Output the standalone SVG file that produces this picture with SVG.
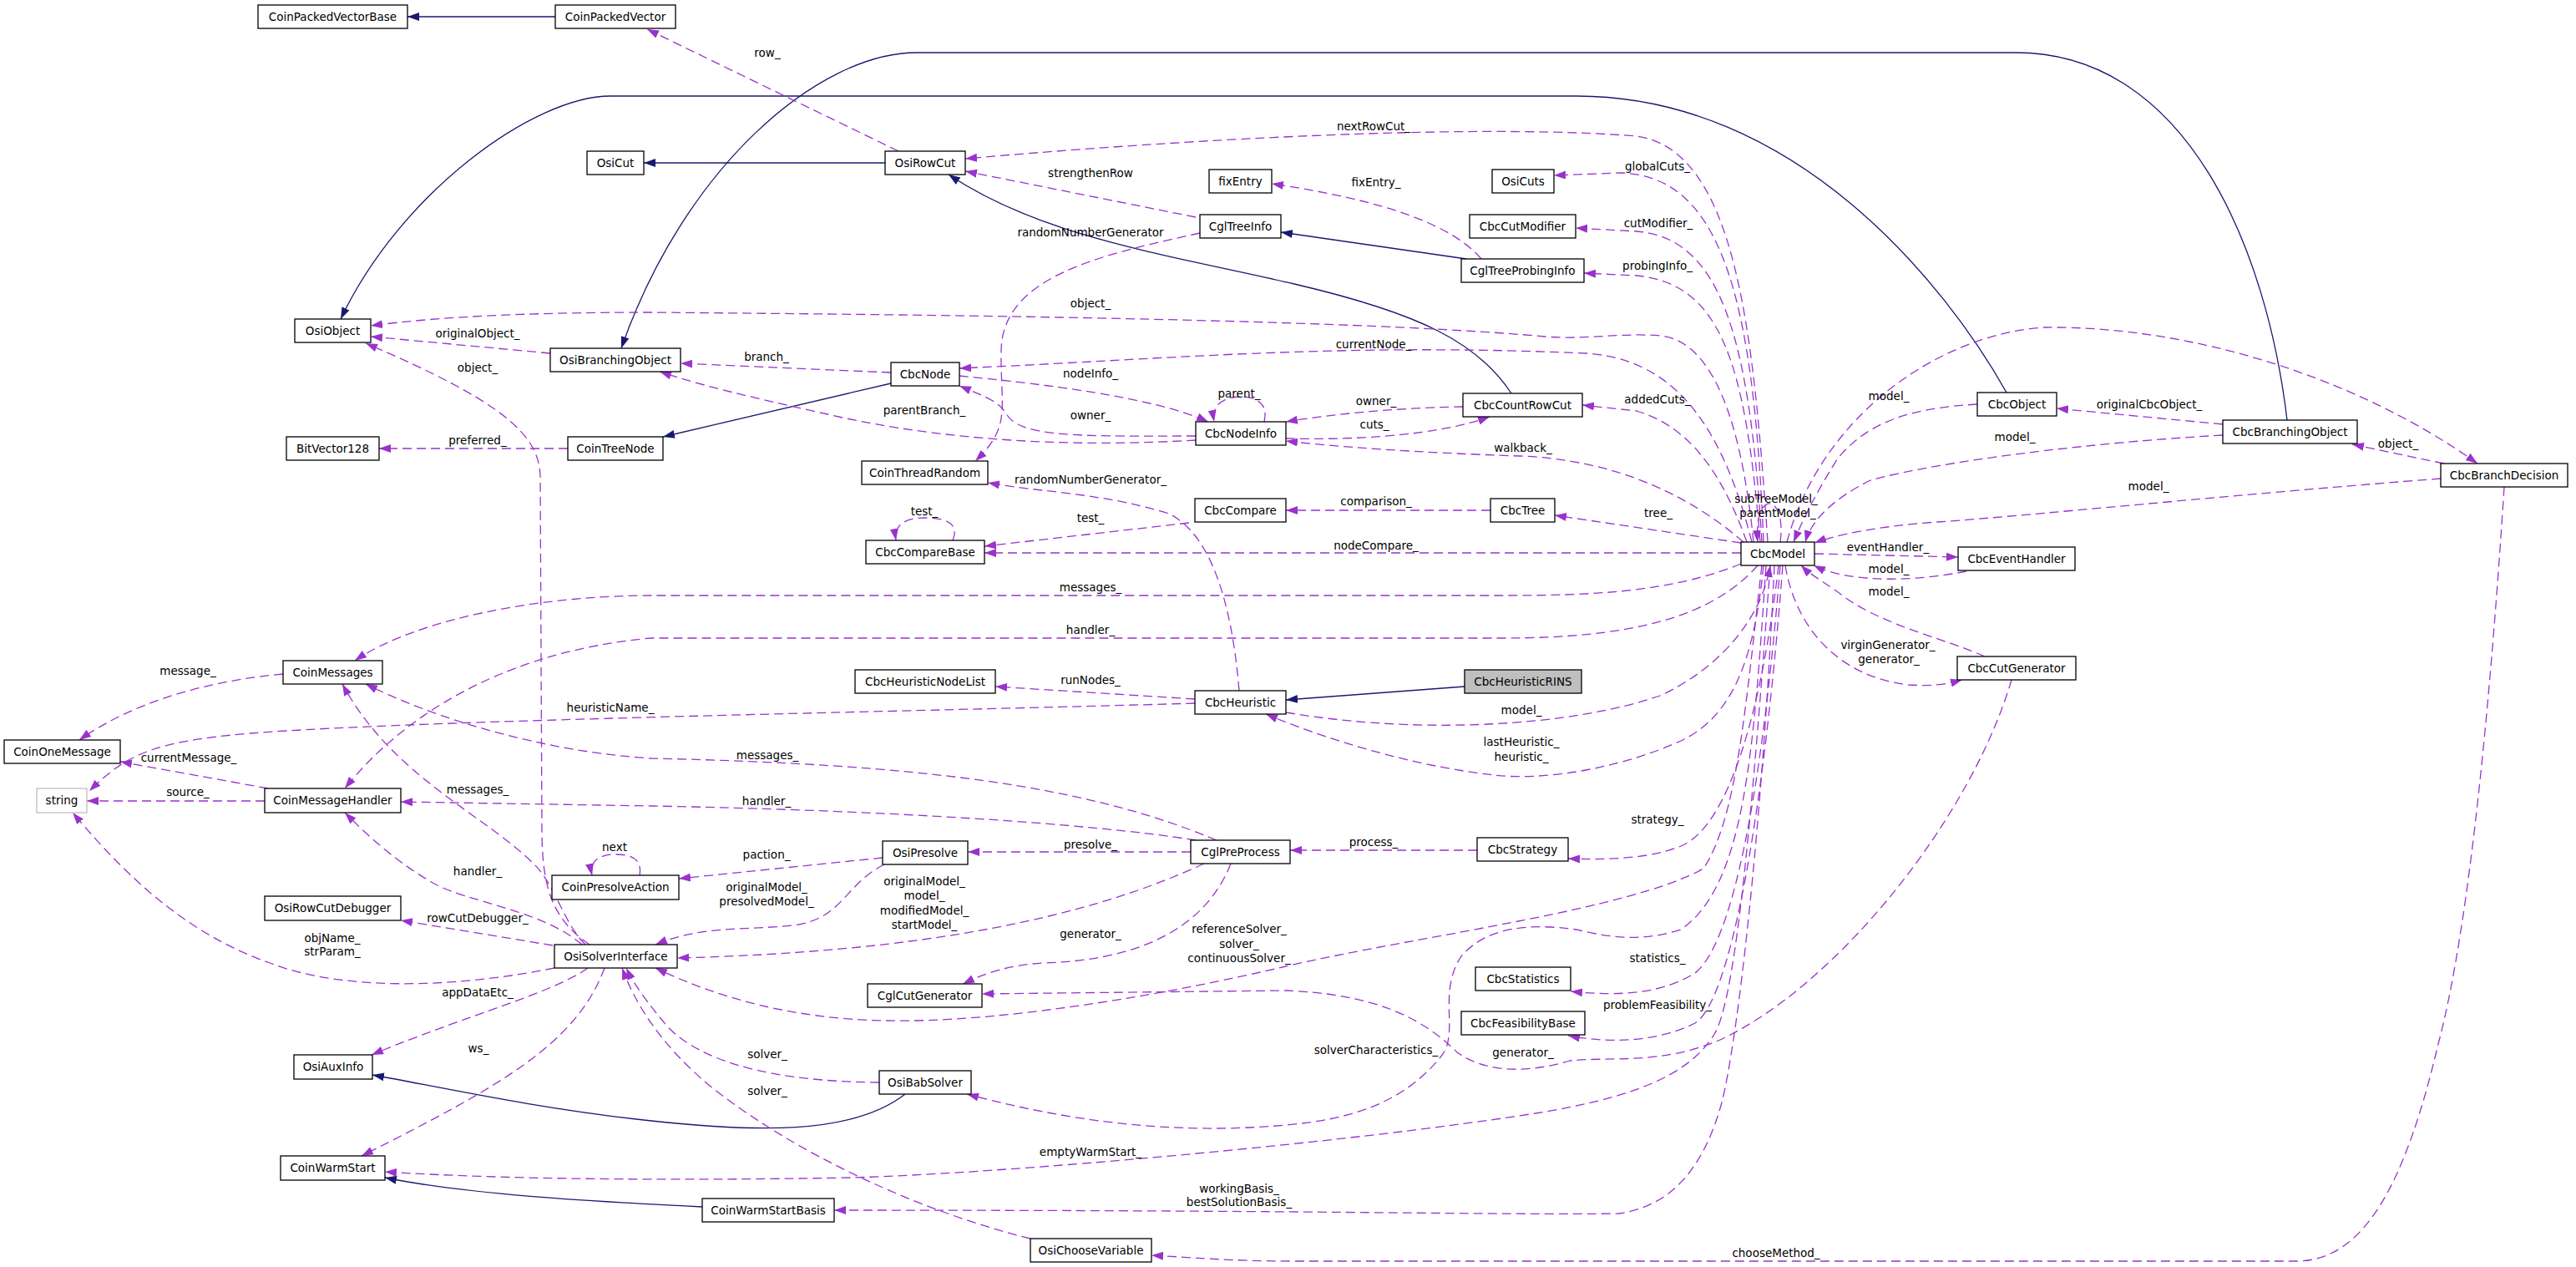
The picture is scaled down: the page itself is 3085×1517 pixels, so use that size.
<svg xmlns="http://www.w3.org/2000/svg" width="3085" height="1517" viewBox="0 0 3085 1517">
<style>
.n rect{fill:#fff;stroke:#000;stroke-width:1.3}
.n text,.l text{font-family:"DejaVu Sans",sans-serif;font-size:13.5px;text-anchor:middle;fill:#000}
.d{fill:none;stroke:#9a32cd;stroke-width:1.3;stroke-dasharray:11,6;marker-end:url(#ap)}
.s{fill:none;stroke:#191970;stroke-width:1.3;marker-end:url(#ab)}
</style>
<defs>
<marker id="ap" markerUnits="userSpaceOnUse" markerWidth="16" markerHeight="12" refX="14" refY="5" orient="auto"><path d="M0,0 L14,5 L0,10 z" fill="#9a32cd"/></marker>
<marker id="ab" markerUnits="userSpaceOnUse" markerWidth="16" markerHeight="12" refX="14" refY="5" orient="auto"><path d="M0,0 L14,5 L0,10 z" fill="#191970"/></marker>
</defs>
<rect width="3085" height="1517" fill="#fff"/>
<g id="edges">
<path class="s" d="M665,20 L488,20"/>
<path class="s" d="M1060,195 L771,195"/>
<path class="s" d="M2403,470 C2330,340 2150,115 1888,115 L731,115 C640,115 480,230 408,382"/>
<path class="s" d="M2739,503 C2715,300 2620,63 2414,63 L1098,63 C980,63 820,200 744,417"/>
<path class="s" d="M1810,471 C1770,410 1700,375 1550,340 C1400,305 1250,285 1136,209"/>
<path class="s" d="M1756,310 L1534,278"/>
<path class="s" d="M1067,459 L794,523"/>
<path class="s" d="M1754,822 L1540,838"/>
<path class="s" d="M1084,1310 C1020,1360 900,1355 780,1342 C640,1327 520,1300 446,1287"/>
<path class="s" d="M841,1445 C700,1438 560,1430 461,1410"/>
<path class="d" d="M1076,181 L775,35"/>
<path class="d" d="M2117,649 C2100,400 2080,180 1960,163 C1800,150 1500,160 1156,190"/>
<path class="d" d="M1432,260 L1156,205"/>
<path class="d" d="M1437,279 C1320,305 1200,330 1199,420 C1198,490 1212,510 1168,552"/>
<path class="d" d="M2100,649 C2085,500 2050,410 1990,402 C1940,398 1900,407 1850,403 C1600,380 1000,376 780,374 C620,374 520,380 444,390"/>
<path class="d" d="M659,423 L444,403"/>
<path class="d" d="M706,1131 C660,1100 650,1060 649,1000 L647,570 C646,520 600,480 438,411"/>
<path class="d" d="M1774,310 C1740,270 1660,240 1523,220"/>
<path class="d" d="M2112,649 C2100,350 2060,210 1940,207 L1861,210"/>
<path class="d" d="M2110,649 C2095,400 2060,285 1960,277 L1887,273"/>
<path class="d" d="M2108,649 C2090,430 2060,340 1960,330 L1897,327"/>
<path class="d" d="M2098,649 C2060,500 2000,430 1900,423 C1600,410 1400,430 1149,441"/>
<path class="d" d="M2092,649 C2060,560 2020,510 1960,492 L1895,485"/>
<path class="d" d="M2088,649 C2020,590 1930,550 1820,546 C1700,542 1600,535 1540,528"/>
<path class="d" d="M2085,650 L1862,617"/>
<path class="d" d="M2085,662 L1179,662"/>
<path class="d" d="M1785,611 L1540,611"/>
<path class="d" d="M1424,626 L1179,654"/>
<path class="d" d="M1141,647 C1150,625 1130,620 1107,620 C1085,620 1070,628 1073,647"/>
<path class="d" d="M2085,675 C2000,710 1900,713 1800,713 L780,713 C650,713 500,740 425,791"/>
<path class="d" d="M2105,677 C2050,740 1950,764 1800,764 L780,764 C600,780 480,860 413,944"/>
<path class="d" d="M1431,842 C1100,852 500,862 300,878 C180,888 150,905 107,947"/>
<path class="d" d="M339,807 C250,815 160,840 95,886"/>
<path class="d" d="M321,944 L144,912"/>
<path class="d" d="M317,959 L104,959"/>
<path class="d" d="M680,537 L454,537"/>
<path class="d" d="M701,1131 C675,1105 665,1060 640,1035 C580,975 470,930 410,819"/>
<path class="d" d="M1457,1006 C1300,940 1100,915 780,908 C650,900 520,860 438,819"/>
<path class="d" d="M1432,1006 C1300,985 1050,970 780,965 L480,960"/>
<path class="d" d="M697,1131 C650,1090 560,1080 520,1058 C480,1035 450,1010 413,973"/>
<path class="d" d="M664,1159 C560,1180 420,1190 323,1153 C230,1120 160,1060 87,973"/>
<path class="d" d="M662,1132 L480,1102"/>
<path class="d" d="M704,1159 C660,1190 560,1215 445,1263"/>
<path class="d" d="M724,1159 C690,1250 600,1300 433,1384"/>
<path class="d" d="M766,1048 C770,1025 750,1023 736,1023 C720,1023 705,1030 709,1048"/>
<path class="d" d="M1057,1027 L813,1052"/>
<path class="d" d="M1059,1035 C1010,1060 1010,1100 950,1108 C890,1114 840,1108 785,1131"/>
<path class="d" d="M1442,1034 C1300,1100 1100,1140 811,1147"/>
<path class="d" d="M1474,1034 C1440,1120 1350,1150 1250,1153 C1210,1155 1180,1165 1153,1178"/>
<path class="d" d="M1426,1020 L1159,1020"/>
<path class="d" d="M1769,1018 L1545,1018"/>
<path class="d" d="M2110,677 C2090,850 2080,980 2040,1040 C1950,1090 1700,1120 1540,1157 C1400,1190 1200,1225 1060,1222 C950,1220 860,1195 785,1159"/>
<path class="d" d="M2409,814 C2360,980 2200,1180 2060,1245 C1990,1275 1930,1265 1880,1270 C1830,1285 1780,1285 1745,1260 C1700,1215 1640,1190 1540,1186 L1176,1190"/>
<path class="d" d="M2115,677 C2100,900 2090,1060 2013,1113 C1960,1130 1920,1120 1888,1113 C1830,1105 1780,1110 1750,1145 C1720,1190 1750,1240 1724,1267 C1680,1320 1620,1340 1540,1347 C1400,1360 1270,1340 1158,1310"/>
<path class="d" d="M2120,677 C2100,950 2080,1200 2052,1240 C2020,1290 1950,1315 1839,1333 C1600,1370 1200,1405 1019,1410 C800,1414 600,1412 461,1403"/>
<path class="d" d="M2125,677 C2110,1000 2080,1250 2062,1320 C2040,1400 2000,1445 1938,1453 C1800,1455 1600,1449 999,1449"/>
<path class="d" d="M2999,583 C2985,800 2960,1100 2920,1250 C2880,1420 2830,1510 2750,1510 L1550,1510 C1470,1510 1420,1505 1379,1503"/>
<path class="d" d="M2130,677 C2110,850 2070,990 2013,1013 C1980,1027 1930,1030 1878,1028"/>
<path class="d" d="M2132,677 C2110,950 2075,1130 2030,1165 C1990,1190 1940,1193 1881,1187"/>
<path class="d" d="M2135,677 C2110,1000 2070,1200 2030,1225 C1980,1250 1920,1248 1878,1240"/>
<path class="d" d="M1540,853 C1700,880 1880,870 1988,833 C2060,800 2110,740 2120,677"/>
<path class="d" d="M2112,677 C2100,800 2070,860 2013,887 C1940,920 1850,935 1789,928 C1700,918 1600,890 1516,855"/>
<path class="d" d="M2173,663 L2345,667"/>
<path class="d" d="M2355,684 C2300,695 2220,700 2172,677"/>
<path class="d" d="M2377,786 C2330,765 2260,750 2212,717 C2190,700 2170,690 2157,677"/>
<path class="d" d="M2138,677 C2150,750 2200,810 2286,820 C2320,822 2335,818 2350,814"/>
<path class="d" d="M2368,484 C2300,488 2240,500 2200,550 C2175,590 2160,620 2148,649"/>
<path class="d" d="M2662,521 C2500,530 2320,553 2240,575 C2200,595 2170,620 2162,649"/>
<path class="d" d="M2923,573 C2700,590 2400,620 2320,625 C2250,630 2200,640 2173,650"/>
<path class="d" d="M2662,508 L2463,489"/>
<path class="d" d="M2927,555 L2817,532"/>
<path class="d" d="M2140,649 C2180,500 2320,400 2449,392 C2620,390 2820,450 2967,555"/>
<path class="d" d="M2132,649 C2140,590 2100,585 2105,649"/>
<path class="d" d="M1514,505 C1520,480 1500,475 1486,475 C1470,475 1450,482 1454,505"/>
<path class="d" d="M1149,450 C1250,460 1380,475 1447,505"/>
<path class="d" d="M1432,522 C1300,522 1220,525 1205,495 C1195,480 1180,475 1149,462"/>
<path class="d" d="M1432,527 C1300,535 1150,530 1009,500 C920,480 850,465 790,445"/>
<path class="d" d="M1067,446 L815,435"/>
<path class="d" d="M1752,487 C1680,488 1600,495 1540,505"/>
<path class="d" d="M1540,525 C1620,527 1720,522 1784,499"/>
<path class="d" d="M1484,827 C1475,720 1450,640 1400,615 C1320,590 1250,590 1183,578"/>
<path class="d" d="M1431,837 L1192,822"/>
<path class="d" d="M1053,1296 C950,1295 850,1280 800,1230 C775,1200 760,1180 750,1159"/>
<path class="d" d="M1234,1483 C1100,1450 950,1380 850,1300 C790,1250 760,1200 745,1159"/>
</g>
<g id="labels" class="l">
<text x="919" y="68">row_</text>
<text x="1645" y="156">nextRowCut_</text>
<text x="1306" y="212">strengthenRow</text>
<text x="1985" y="204">globalCuts_</text>
<text x="1648" y="223">fixEntry_</text>
<text x="1986" y="272">cutModifier_</text>
<text x="1306" y="283">randomNumberGenerator</text>
<text x="1985" y="323">probingInfo_</text>
<text x="1306" y="368">object_</text>
<text x="572" y="404">originalObject_</text>
<text x="1645" y="417">currentNode_</text>
<text x="918" y="432">branch_</text>
<text x="572" y="445">object_</text>
<text x="1306" y="452">nodeInfo_</text>
<text x="1484" y="476">parent_</text>
<text x="2262" y="479">model_</text>
<text x="1985" y="483">addedCuts_</text>
<text x="1648" y="485">owner_</text>
<text x="2574" y="489">originalCbcObject_</text>
<text x="1107" y="496">parentBranch_</text>
<text x="1306" y="502">owner_</text>
<text x="1646" y="513">cuts_</text>
<text x="2413" y="528">model_</text>
<text x="572" y="532">preferred_</text>
<text x="2872" y="536">object_</text>
<text x="1824" y="541">walkback_</text>
<text x="1306" y="579">randomNumberGenerator_</text>
<text x="2573" y="587">model_</text>
<text x="2127" y="602">subTreeModel_</text>
<text x="2129" y="619">parentModel_</text>
<text x="1648" y="605">comparison_</text>
<text x="1107" y="617">test_</text>
<text x="1986" y="619">tree_</text>
<text x="1306" y="625">test_</text>
<text x="1648" y="658">nodeCompare_</text>
<text x="2261" y="660">eventHandler_</text>
<text x="2262" y="686">model_</text>
<text x="1306" y="708">messages_</text>
<text x="2262" y="713">model_</text>
<text x="1306" y="759">handler_</text>
<text x="2261" y="777">virginGenerator_</text>
<text x="2262" y="794">generator_</text>
<text x="225" y="808">message_</text>
<text x="1306" y="819">runNodes_</text>
<text x="731" y="852">heuristicName_</text>
<text x="1822" y="855">model_</text>
<text x="1822" y="893">lastHeuristic_</text>
<text x="1822" y="911">heuristic_</text>
<text x="919" y="909">messages_</text>
<text x="226" y="912">currentMessage_</text>
<text x="572" y="950">messages_</text>
<text x="225" y="953">source_</text>
<text x="918" y="964">handler_</text>
<text x="1985" y="986">strategy_</text>
<text x="1645" y="1013">process_</text>
<text x="1306" y="1016">presolve_</text>
<text x="736" y="1019">next</text>
<text x="918" y="1028">paction_</text>
<text x="572" y="1048">handler_</text>
<text x="1107" y="1060">originalModel_</text>
<text x="1107" y="1077">model_</text>
<text x="1107" y="1095">modifiedModel_</text>
<text x="1107" y="1112">startModel_</text>
<text x="918" y="1067">originalModel_</text>
<text x="918" y="1084">presolvedModel_</text>
<text x="572" y="1104">rowCutDebugger_</text>
<text x="1484" y="1117">referenceSolver_</text>
<text x="1484" y="1135">solver_</text>
<text x="1484" y="1152">continuousSolver_</text>
<text x="1306" y="1123">generator_</text>
<text x="398" y="1128">objName_</text>
<text x="398" y="1144">strParam_</text>
<text x="1985" y="1152">statistics_</text>
<text x="572" y="1193">appDataEtc_</text>
<text x="1985" y="1208">problemFeasibility_</text>
<text x="573" y="1260">ws_</text>
<text x="1648" y="1262">solverCharacteristics_</text>
<text x="1824" y="1265">generator_</text>
<text x="919" y="1267">solver_</text>
<text x="919" y="1311">solver_</text>
<text x="1306" y="1384">emptyWarmStart_</text>
<text x="1484" y="1428">workingBasis_</text>
<text x="1484" y="1444">bestSolutionBasis_</text>
<text x="2127" y="1505">chooseMethod_</text>
</g>
<g id="n1" class="n"><rect x="309" y="6" width="179" height="28"/><text x="398.5" y="25">CoinPackedVectorBase</text></g>
<g id="n2" class="n"><rect x="665" y="6" width="144" height="28"/><text x="737" y="25">CoinPackedVector</text></g>
<g id="n3" class="n"><rect x="703" y="181" width="68" height="28"/><text x="737" y="200">OsiCut</text></g>
<g id="n4" class="n"><rect x="1060" y="181" width="96" height="28"/><text x="1108" y="200">OsiRowCut</text></g>
<g id="n5" class="n"><rect x="1448" y="203" width="75" height="28"/><text x="1485.5" y="222">fixEntry</text></g>
<g id="n6" class="n"><rect x="1787" y="203" width="74" height="28"/><text x="1824" y="222">OsiCuts</text></g>
<g id="n7" class="n"><rect x="1437" y="257" width="97" height="28"/><text x="1485.5" y="276">CglTreeInfo</text></g>
<g id="n8" class="n"><rect x="1760" y="257" width="127" height="28"/><text x="1823.5" y="276">CbcCutModifier</text></g>
<g id="n9" class="n"><rect x="1750" y="310" width="147" height="28"/><text x="1823.5" y="329">CglTreeProbingInfo</text></g>
<g id="n10" class="n"><rect x="353" y="382" width="91" height="28"/><text x="398.5" y="401">OsiObject</text></g>
<g id="n11" class="n"><rect x="659" y="417" width="156" height="28"/><text x="737" y="436">OsiBranchingObject</text></g>
<g id="n12" class="n"><rect x="1067" y="434" width="82" height="28"/><text x="1108" y="453">CbcNode</text></g>
<g id="n13" class="n"><rect x="1752" y="471" width="143" height="28"/><text x="1823.5" y="490">CbcCountRowCut</text></g>
<g id="n14" class="n"><rect x="2368" y="470" width="95" height="28"/><text x="2415.5" y="489">CbcObject</text></g>
<g id="n15" class="n"><rect x="2662" y="503" width="161" height="28"/><text x="2742.5" y="522">CbcBranchingObject</text></g>
<g id="n16" class="n"><rect x="1432" y="505" width="108" height="28"/><text x="1486" y="524">CbcNodeInfo</text></g>
<g id="n17" class="n"><rect x="343" y="523" width="111" height="28"/><text x="398.5" y="542">BitVector128</text></g>
<g id="n18" class="n"><rect x="680" y="523" width="114" height="28"/><text x="737" y="542">CoinTreeNode</text></g>
<g id="n19" class="n"><rect x="1032" y="552" width="151" height="28"/><text x="1107.5" y="571">CoinThreadRandom</text></g>
<g id="n20" class="n"><rect x="2923" y="555" width="152" height="28"/><text x="2999" y="574">CbcBranchDecision</text></g>
<g id="n21" class="n"><rect x="1431" y="597" width="109" height="28"/><text x="1485.5" y="616">CbcCompare</text></g>
<g id="n22" class="n"><rect x="1785" y="597" width="77" height="28"/><text x="1823.5" y="616">CbcTree</text></g>
<g id="n23" class="n"><rect x="1037" y="647" width="142" height="28"/><text x="1108" y="666">CbcCompareBase</text></g>
<g id="n24" class="n"><rect x="2085" y="649" width="88" height="28"/><text x="2129" y="668">CbcModel</text></g>
<g id="n25" class="n"><rect x="2345" y="655" width="140" height="28"/><text x="2415" y="674">CbcEventHandler</text></g>
<g id="n26" class="n"><rect x="339" y="791" width="119" height="28"/><text x="398.5" y="810">CoinMessages</text></g>
<g id="n27" class="n"><rect x="1024" y="802" width="168" height="28"/><text x="1108" y="821">CbcHeuristicNodeList</text></g>
<g id="n28" class="n"><rect x="1754" y="802" width="140" height="28" style="fill:#bfbfbf"/><text x="1824" y="821">CbcHeuristicRINS</text></g>
<g id="n29" class="n"><rect x="1431" y="827" width="109" height="28"/><text x="1485.5" y="846">CbcHeuristic</text></g>
<g id="n30" class="n"><rect x="2344" y="786" width="142" height="28"/><text x="2415" y="805">CbcCutGenerator</text></g>
<g id="n31" class="n"><rect x="5" y="886" width="139" height="28"/><text x="74.5" y="905">CoinOneMessage</text></g>
<g id="n32" class="n"><rect x="44" y="944" width="60" height="29" style="stroke:#bfbfbf"/><text x="74" y="963">string</text></g>
<g id="n33" class="n"><rect x="317" y="944" width="163" height="29"/><text x="398.5" y="963">CoinMessageHandler</text></g>
<g id="n34" class="n"><rect x="1769" y="1003" width="109" height="28"/><text x="1823.5" y="1022">CbcStrategy</text></g>
<g id="n35" class="n"><rect x="1426" y="1006" width="119" height="28"/><text x="1485.5" y="1025">CglPreProcess</text></g>
<g id="n36" class="n"><rect x="1057" y="1007" width="102" height="28"/><text x="1108" y="1026">OsiPresolve</text></g>
<g id="n37" class="n"><rect x="661" y="1048" width="152" height="29"/><text x="737" y="1067">CoinPresolveAction</text></g>
<g id="n38" class="n"><rect x="317" y="1073" width="163" height="29"/><text x="398.5" y="1092">OsiRowCutDebugger</text></g>
<g id="n39" class="n"><rect x="664" y="1131" width="147" height="28"/><text x="737.5" y="1150">OsiSolverInterface</text></g>
<g id="n40" class="n"><rect x="1767" y="1158" width="114" height="28"/><text x="1824" y="1177">CbcStatistics</text></g>
<g id="n41" class="n"><rect x="1039" y="1178" width="137" height="28"/><text x="1107.5" y="1197">CglCutGenerator</text></g>
<g id="n42" class="n"><rect x="1750" y="1211" width="148" height="28"/><text x="1824" y="1230">CbcFeasibilityBase</text></g>
<g id="n43" class="n"><rect x="352" y="1263" width="94" height="29"/><text x="399" y="1282">OsiAuxInfo</text></g>
<g id="n44" class="n"><rect x="1053" y="1282" width="110" height="28"/><text x="1108" y="1301">OsiBabSolver</text></g>
<g id="n45" class="n"><rect x="336" y="1384" width="125" height="29"/><text x="398.5" y="1403">CoinWarmStart</text></g>
<g id="n46" class="n"><rect x="841" y="1435" width="158" height="28"/><text x="920" y="1454">CoinWarmStartBasis</text></g>
<g id="n47" class="n"><rect x="1234" y="1483" width="145" height="28"/><text x="1306.5" y="1502">OsiChooseVariable</text></g>
</svg>
